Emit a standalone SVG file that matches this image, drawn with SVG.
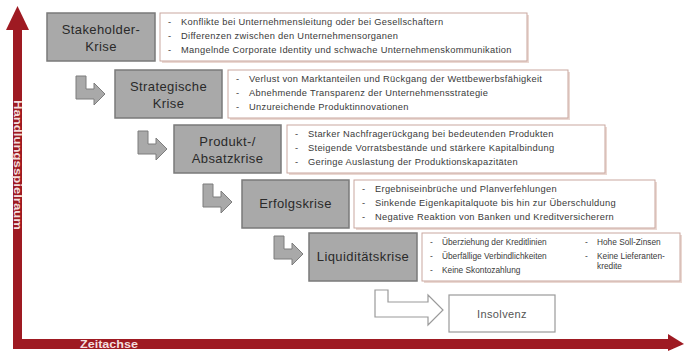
<svg xmlns="http://www.w3.org/2000/svg" width="684" height="351" viewBox="0 0 684 351">
<style>
.crisis rect.g{fill:#a9a9a9;stroke:#7a7a7a;stroke-width:1.5}
.lbl{font-family:"Liberation Sans",Arial,sans-serif;font-size:13px;letter-spacing:0.4px;fill:#2a2a2a;text-anchor:middle}
.tb{fill:#ffffff;stroke:#c9a79f;stroke-width:1}
.sh{fill:#ead8d2}
.t{font-family:"Liberation Sans",Arial,sans-serif;font-size:9.3px;letter-spacing:0.3px;fill:#3a3a3a}
.s{font-size:8.3px;letter-spacing:0}
.arr{fill:#a9a9a9;stroke:#7d7d7d;stroke-width:1}
.arrw{fill:#ffffff;stroke:#9a9a9a;stroke-width:1.2}
.ax{fill:#9e1a22}
.axt{font-family:"Liberation Sans",Arial,sans-serif;font-size:11px;font-weight:bold;fill:#f4dede}
</style>
<defs>
<path id="larr" d="M0,0 H10 V13 H18 V7 L29,18 L18,29 V23 H0 Z"/>
</defs>
<g id="axes">
<rect class="ax" x="13" y="26" width="9" height="323"/>
<polygon class="ax" points="17.5,6 6,30 29,30"/>
<rect class="ax" x="13" y="339" width="660" height="10"/>
<polygon class="ax" points="684,344 668,334 668,351"/>
<text class="axt" transform="translate(14,100) rotate(90)" textLength="130" lengthAdjust="spacingAndGlyphs">Handlungsspielraum</text>
<text class="axt" x="80" y="348" textLength="58" lengthAdjust="spacingAndGlyphs">Zeitachse</text>
</g>
<g id="connectors">
<use href="#larr" class="arr" x="76" y="76"/>
<use href="#larr" class="arr" x="138" y="131"/>
<use href="#larr" class="arr" x="203" y="184"/>
<use href="#larr" class="arr" x="274" y="236"/>
<path class="arrw" d="M375,290 H388 V302 H428 V295 L443,310 L428,325 V317 H375 Z"/>
</g>
<g id="stakeholder" class="crisis">
<rect class="g" x="47" y="13" width="108" height="48"/>
<text class="lbl" x="101" y="34">Stakeholder-</text>
<text class="lbl" x="101" y="51">Krise</text>
<rect class="sh" x="162" y="15" width="367" height="48"/>
<rect class="tb" x="160" y="13" width="367" height="48"/>
<text class="t" x="168" y="25">-</text><text class="t" x="181" y="25">Konflikte bei Unternehmensleitung oder bei Gesellschaftern</text>
<text class="t" x="168" y="39">-</text><text class="t" x="181" y="39">Differenzen zwischen den Unternehmensorganen</text>
<text class="t" x="168" y="53">-</text><text class="t" x="181" y="53">Mangelnde Corporate Identity und schwache Unternehmenskommunikation</text>
</g>
<g id="strategisch" class="crisis">
<rect class="g" x="115" y="70" width="107" height="48"/>
<text class="lbl" x="168.5" y="91">Strategische</text>
<text class="lbl" x="168.5" y="108">Krise</text>
<rect class="sh" x="230" y="72" width="340" height="48"/>
<rect class="tb" x="228" y="70" width="340" height="48"/>
<text class="t" x="236" y="82">-</text><text class="t" x="249" y="82">Verlust von Marktanteilen und Rückgang der Wettbewerbsfähigkeit</text>
<text class="t" x="236" y="96">-</text><text class="t" x="249" y="96">Abnehmende Transparenz der Unternehmensstrategie</text>
<text class="t" x="236" y="110">-</text><text class="t" x="249" y="110">Unzureichende Produktinnovationen</text>
</g>
<g id="produkt" class="crisis">
<rect class="g" x="174" y="125" width="107" height="48"/>
<text class="lbl" x="227.5" y="146">Produkt-/</text>
<text class="lbl" x="227.5" y="163">Absatzkrise</text>
<rect class="sh" x="289" y="127" width="318" height="48"/>
<rect class="tb" x="287" y="125" width="318" height="48"/>
<text class="t" x="295" y="137">-</text><text class="t" x="308" y="137">Starker Nachfragerückgang bei bedeutenden Produkten</text>
<text class="t" x="295" y="151">-</text><text class="t" x="308" y="151">Steigende Vorratsbestände und stärkere Kapitalbindung</text>
<text class="t" x="295" y="165">-</text><text class="t" x="308" y="165">Geringe Auslastung der Produktionskapazitäten</text>
</g>
<g id="erfolg" class="crisis">
<rect class="g" x="242" y="180" width="107" height="48"/>
<text class="lbl" x="295.5" y="208">Erfolgskrise</text>
<rect class="sh" x="356" y="182" width="301" height="48"/>
<rect class="tb" x="354" y="180" width="301" height="48"/>
<text class="t" x="362" y="192">-</text><text class="t" x="375" y="192">Ergebniseinbrüche und Planverfehlungen</text>
<text class="t" x="362" y="206">-</text><text class="t" x="375" y="206">Sinkende Eigenkapitalquote bis hin zur Überschuldung</text>
<text class="t" x="362" y="220">-</text><text class="t" x="375" y="220">Negative Reaktion von Banken und Kreditversicherern</text>
</g>
<g id="liquiditaet" class="crisis">
<rect class="g" x="309" y="233" width="108" height="48"/>
<text class="lbl" x="363" y="261">Liquiditätskrise</text>
<rect class="sh" x="424" y="235" width="258" height="48"/>
<rect class="tb" x="422" y="233" width="258" height="48"/>
<text class="t s" x="430" y="245">-</text><text class="t s" x="442" y="245">Überziehung der Kreditlinien</text>
<text class="t s" x="430" y="259">-</text><text class="t s" x="442" y="259">Überfällige Verbindlichkeiten</text>
<text class="t s" x="430" y="273">-</text><text class="t s" x="442" y="273">Keine Skontozahlung</text>
<text class="t s" x="585" y="245">-</text><text class="t s" x="597" y="245">Hohe Soll-Zinsen</text>
<text class="t s" x="585" y="259">-</text><text class="t s" x="597" y="259">Keine Lieferanten-</text>
<text class="t s" x="597" y="269">kredite</text>
</g>
<g id="insolvenz">
<rect x="449" y="295" width="106" height="37" fill="#ffffff" stroke="#9a9a9a" stroke-width="1.2"/>
<text class="lbl" x="502" y="318" style="fill:#555;font-size:11px">Insolvenz</text>
</g>
</svg>
